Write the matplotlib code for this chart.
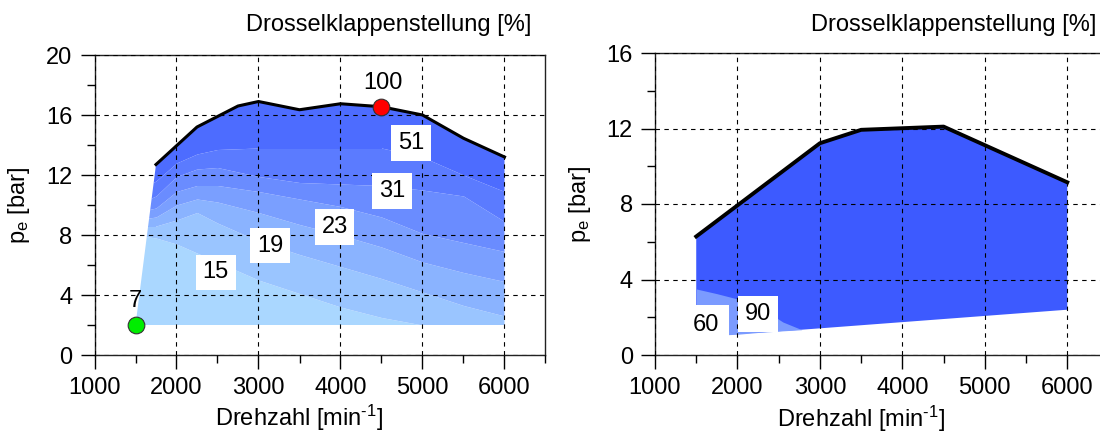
import matplotlib
matplotlib.use("Agg")
import matplotlib.pyplot as plt
from matplotlib import ticker
from matplotlib.patches import Polygon
import numpy as np

plt.rcParams["font.family"] = ["Liberation Sans", "DejaVu Sans"]
plt.rcParams["font.size"] = 17
plt.rcParams["mathtext.fontset"] = "custom"
plt.rcParams["mathtext.rm"] = "Liberation Sans"
plt.rcParams["mathtext.default"] = "regular"

# Left map: full-load curve of the throttled engine
fl_speed = [1750, 2250, 2750, 3000, 3500, 4000, 4500, 5000, 5500, 6000]
fl_pe = [12.7, 15.2, 16.6, 16.9, 16.35, 16.75, 16.55, 16.0, 14.45, 13.2]
map_bottom_pe = 2.0
map_left_speed = 1500

# Iso-throttle boundaries (bottom of each band, light to dark)
band_speed = [1500, 1750, 2000, 2250, 2500, 3000, 3500, 4000, 4500, 5000, 5500, 6000]
band_bounds = [
    [8.0, 7.8, 7.4, 6.8, 6.2, 5.0, 4.1, 3.2, 2.5, 2.0, 1.8, 1.8],
    [8.6, 8.6, 9.0, 9.5, 8.8, 7.6, 6.7, 5.9, 5.1, 4.2, 3.3, 2.6],
    [9.0, 9.2, 10.0, 10.4, 10.2, 9.5, 8.7, 8.0, 7.2, 6.2, 5.5, 4.9],
    [9.5, 9.8, 10.9, 11.3, 11.3, 10.9, 10.4, 9.9, 9.2, 8.1, 7.5, 6.9],
    [10.0, 10.6, 11.9, 12.4, 12.5, 11.9, 11.5, 11.4, 11.3, 11.0, 10.6, 8.9],
    [10.9, 11.6, 12.8, 13.4, 13.7, 13.8, 13.8, 13.8, 13.8, 13.2, 12.0, 10.9],
]
band_colors = ["#aad7ff", "#9ac5ff", "#8ab3ff", "#7a9fff", "#6a8cff", "#5b7bff", "#4d6cff"]

throttle_labels = ["15", "19", "23", "31", "51"]
throttle_pos = [(2476, 5.5), (3146, 7.3), (3927, 8.55), (4632, 10.95), (4863, 14.15)]
idle_point = (1500, 2.0)
full_point = (4500, 16.55)

# Right map: unthrottled operation
ut_speed = [1500, 3000, 3500, 4500, 6000]
ut_pe = [6.28, 11.22, 11.93, 12.1, 9.15]
ut_low_speed = [1500, 1880, 2780, 6000]
ut_low_pe = [1.0, 1.08, 1.34, 2.4]
ut60_speed = [1500, 1750, 2000, 2270, 2550, 2780]
ut60_top = [3.5, 3.25, 2.97, 2.55, 1.75, 1.34]
ut60_low = [1.0, 1.05, 1.1, 1.2, 1.28, 1.34]


def style_axes(ax, ymax, ystep):
    ax.set_xlim(1000, 6500)
    ax.set_ylim(0, ymax)
    ax.xaxis.set_major_locator(ticker.FixedLocator(range(1000, 6001, 1000)))
    ax.xaxis.set_minor_locator(ticker.MultipleLocator(500))
    ax.yaxis.set_major_locator(ticker.MultipleLocator(ystep))
    ax.yaxis.set_minor_locator(ticker.MultipleLocator(ystep / 2))
    ax.tick_params(which="major", direction="out", length=10, width=1, pad=6)
    ax.tick_params(which="minor", direction="out", length=6, width=1)
    ax.set_axisbelow(False)
    ax.grid(True, which="major", color="black", linestyle=(0, (4, 4)), linewidth=0.8)
    for sp in ax.spines.values():
        sp.set_linewidth(1)
        sp.set_color("#222222")
    ax.set_xlabel(r"Drehzahl [min$^{\text{-1}}$]")
    ax.xaxis.set_label_coords(2500 / 5500, -0.16)
    ax.set_ylabel("p$_e$ [bar]", labelpad=10)


fig = plt.figure(figsize=(11, 4.32), dpi=100)
ax1 = fig.add_axes([94.5 / 1100, 77 / 432, 451 / 1100, 300 / 432])
ax2 = fig.add_axes([655 / 1100, 77 / 432, 453.5 / 1100, 302 / 432])

# --- left map ---
env = np.array(
    [(map_left_speed, map_bottom_pe)]
    + list(zip(fl_speed, fl_pe))
    + [(fl_speed[-1], map_bottom_pe)]
)
clip = Polygon(env, closed=True, transform=ax1.transData, facecolor="none", edgecolor="none")
ax1.add_patch(clip)
lows = [np.full(len(band_speed), 0.0)] + [np.array(b) for b in band_bounds]
highs = [np.array(b) for b in band_bounds] + [np.full(len(band_speed), 20.0)]
for lo, hi, col in zip(lows, highs, band_colors):
    poly = ax1.fill_between(band_speed, lo, hi, color=col, linewidth=0, zorder=1)
    poly.set_clip_path(clip)
ax1.plot(fl_speed, fl_pe, color="black", linewidth=2.2, zorder=2)
ax1.plot(*idle_point, "o", color="#00ee00", markersize=12, markeredgecolor="#333333",
         markeredgewidth=0.8, zorder=4)
ax1.plot(*full_point, "o", color="#ff0000", markersize=12, markeredgecolor="#333333",
         markeredgewidth=0.8, zorder=4)
ax1.text(idle_point[0], 3.6, "7", ha="center", va="center", zorder=5)
ax1.text(full_point[0] + 12, 18.15, "100", ha="center", va="center", zorder=5)
for txt, (xs, ys) in zip(throttle_labels, throttle_pos):
    ax1.text(xs, ys, txt, ha="center", va="center", zorder=5,
             bbox=dict(facecolor="white", edgecolor="none", pad=5))
style_axes(ax1, 20, 4)

# --- right map ---
ut_poly = np.array(list(zip(ut_speed, ut_pe)) + list(zip(ut_low_speed, ut_low_pe))[::-1])
ax2.add_patch(Polygon(ut_poly, closed=True, facecolor="#3d5aff", edgecolor="none", zorder=1))
ax2.fill_between(ut60_speed, ut60_low, ut60_top, color="#7b9bff", linewidth=0, zorder=1.1)
ax2.plot(ut_speed, ut_pe, color="black", linewidth=2.8, zorder=2)
ax2.text(1615, 1.57, "60", ha="center", va="center", zorder=5,
         bbox=dict(facecolor="white", edgecolor="none", pad=7))
ax2.text(2252, 2.19, "90", ha="center", va="center", zorder=5,
         bbox=dict(facecolor="white", edgecolor="none", pad=5))
style_axes(ax2, 16, 4)

fig.text(389 / 1100, 1 - 31 / 432, "Drosselklappenstellung [%]", ha="center", va="baseline")
fig.text(954 / 1100, 1 - 31 / 432, "Drosselklappenstellung [%]", ha="center", va="baseline")

fig.savefig("out.png", dpi=100)
